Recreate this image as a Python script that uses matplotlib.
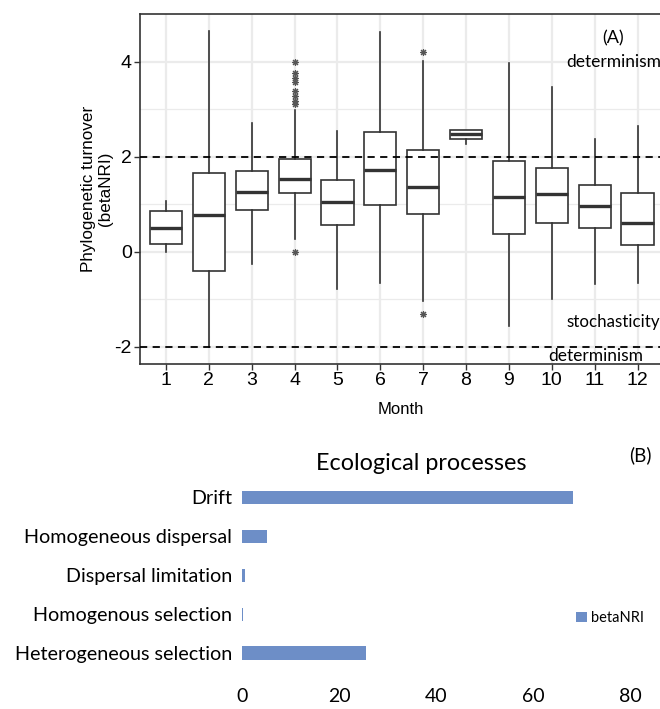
import matplotlib

matplotlib.use("Agg")
import matplotlib.pyplot as plt

# ---- panel A: betaNRI per month (box stats) ----
months = [str(m) for m in range(1, 13)]
whislo = [0.00, -2.00, -0.25, 0.27, -0.78, -0.65, -1.03, 2.26, -1.56, -1.00, -0.68, -0.65]
q1 = [0.17, -0.40, 0.88, 1.23, 0.57, 0.99, 0.79, 2.37, 0.37, 0.60, 0.51, 0.15]
med = [0.51, 0.78, 1.26, 1.53, 1.05, 1.73, 1.37, 2.47, 1.16, 1.21, 0.97, 0.60]
q3 = [0.86, 1.65, 1.69, 1.96, 1.51, 2.51, 2.13, 2.56, 1.90, 1.76, 1.41, 1.23]
whishi = [1.07, 4.65, 2.70, 2.98, 2.55, 4.62, 4.01, 2.57, 3.97, 3.47, 2.37, 2.64]
fliers = [
    [], [], [],
    [0.0, 3.11, 3.18, 3.28, 3.39, 3.56, 3.66, 3.75, 3.99],
    [], [], [4.20, -1.31], [], [], [], [], [],
]

# ---- panel B: share of ecological processes ----
processes = ["Heterogeneous selection", "Homogenous selection", "Dispersal limitation",
             "Homogeneous dispersal", "Drift"]
shares = [25.5, 0.25, 0.7, 5.2, 68.3]
share_ticks = [0, 20, 40, 60, 80]

BOX_C = "#333333"
GRID_C = "#ebebeb"
BAR_C = "#6d8ec7"
CAL = ["Lato", "DejaVu Sans"]
ARIAL = ["Liberation Sans", "DejaVu Sans"]

fig = plt.figure(figsize=(6.6, 7.09), dpi=100)

# ---------------- panel A ----------------
ax = fig.add_axes([140 / 660, 1 - 364 / 709, 1 - 140 / 660 + 0.001, (364 - 14) / 709])
stats = [
    dict(label=months[i], whislo=whislo[i], q1=q1[i], med=med[i], q3=q3[i],
         whishi=whishi[i], fliers=fliers[i])
    for i in range(len(months))
]
ax.bxp(
    stats, positions=range(1, 13), widths=0.75, patch_artist=True, showcaps=False,
    boxprops=dict(facecolor="white", edgecolor=BOX_C, linewidth=1.2),
    whiskerprops=dict(color=BOX_C, linewidth=1.2),
    medianprops=dict(color=BOX_C, linewidth=2.4),
    flierprops=dict(marker=(8, 2, 0), markersize=5, markeredgecolor="#555555",
                    markerfacecolor="#555555", markeredgewidth=0.8, linestyle="none"),
    zorder=3,
)
ax.axhline(2, color="black", linestyle=(0, (4, 3)), linewidth=1.3, zorder=4)
ax.axhline(-2, color="black", linestyle=(0, (4, 3)), linewidth=1.3, zorder=4)

ax.set_xlim(0.393, 12.54)
ax.set_ylim(-2.36, 5.0)
ax.set_yticks([-2, 0, 2, 4])
ax.set_yticklabels(["-2", "0", "2", "4"])
ax.set_yticks([-1, 1, 3], minor=True)
ax.set_xticks(range(1, 13))
ax.set_xticklabels(months)
ax.grid(which="major", color=GRID_C, linewidth=1.6, zorder=0)
ax.grid(which="minor", axis="y", color=GRID_C, linewidth=0.9, zorder=0)
ax.set_axisbelow(True)
ax.tick_params(which="major", length=4, width=1, color=BOX_C, labelsize=14, pad=2)
ax.tick_params(which="minor", length=0)
for lab in ax.get_xticklabels() + ax.get_yticklabels():
    lab.set_fontfamily(ARIAL)
for side in ["left", "bottom", "top"]:
    ax.spines[side].set_color(BOX_C)
    ax.spines[side].set_linewidth(1.2)
ax.spines["right"].set_visible(False)
ax.set_ylabel("Phylogenetic turnover\n(betaNRI)", fontsize=12.3, family=ARIAL, labelpad=1)
ax.set_xlabel("Month", fontsize=12, family=ARIAL, labelpad=9)

fig.text(613 / 660, 1 - 38 / 709, "(A)", fontsize=13, family=CAL, ha="center", va="center")
fig.text(566 / 660, 1 - 62 / 709, "determinism", fontsize=12.5, family=CAL, va="center")
fig.text(566 / 660, 1 - 322 / 709, "stochasticity", fontsize=12.2, family=CAL, va="center")
fig.text(548 / 660, 1 - 356 / 709, "determinism", fontsize=12.5, family=CAL, va="center")

# ---------------- panel B ----------------
bx = fig.add_axes([242 / 660, 1 - 672.5 / 709, (630 - 242) / 660, (672.5 - 478) / 709])
bars = bx.barh(range(len(processes)), shares, height=0.34, color=BAR_C, label="betaNRI")
bx.set_xlim(0, 80)
bx.set_ylim(-0.5, 4.5)
bx.set_xticks(share_ticks)
bx.set_xticklabels([str(t) for t in share_ticks])
bx.set_yticks(range(len(processes)))
bx.set_yticklabels(processes)
bx.tick_params(axis="y", length=0, labelsize=14.2, pad=7)
bx.tick_params(axis="x", length=0, labelsize=14, pad=11)
for lab in bx.get_xticklabels() + bx.get_yticklabels():
    lab.set_fontfamily(CAL)
for s in bx.spines.values():
    s.set_visible(False)

fig.text(421 / 660, 1 - 463 / 709, "Ecological processes", fontsize=16.8, family=CAL,
         ha="center", va="center")
fig.text(640 / 660, 1 - 455 / 709, "(B)", fontsize=13.5, family=CAL, ha="center", va="center")
bx.legend(handles=[bars], loc="center left", bbox_to_anchor=(569 / 660, 1 - 618 / 709),
          bbox_transform=fig.transFigure, frameon=False, handlelength=0.7,
          handleheight=0.7, handletextpad=0.3, borderpad=0, prop=dict(family=CAL, size=10.5))

fig.savefig("out.png", dpi=100)
